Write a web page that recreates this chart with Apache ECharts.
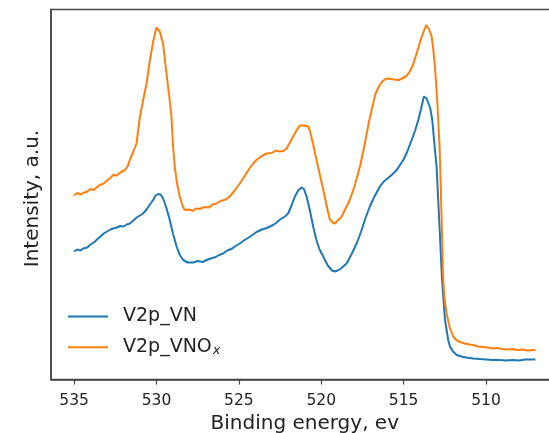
<!DOCTYPE html>
<html><head><meta charset="utf-8">
<script src="https://cdn.jsdelivr.net/npm/echarts@6/dist/echarts.min.js"></script>
<style>html,body{margin:0;padding:0;background:#fff}#c{width:549px;height:433px}</style>
</head><body><div id="c"></div><script>
const xTicks=[535,530,525,520,515,510];
const seriesNames=['V2p_VN','V2p_VNOx'];
const energyVN=[535.0,534.8,534.6,534.45,534.2,534.0,533.8,533.64,533.4,533.2,533.0,532.8,532.63,532.4,532.2,532.0,531.8,531.62,531.4,531.2,531.0,530.81,530.6,530.4,530.2,530.05,529.9,529.75,529.6,529.4,529.19,529.0,528.78,528.6,528.38,528.1,527.77,527.5,527.2,526.96,526.7,526.4,526.2,525.95,525.7,525.4,525.2,524.94,524.7,524.4,524.13,523.93,523.6,523.3,522.92,522.7,522.5,522.2,522.01,521.8,521.6,521.4,521.2,521.05,520.89,520.7,520.49,520.3,520.1,519.88,519.6,519.35,519.17,519.0,518.8,518.6,518.46,518.2,517.85,517.6,517.3,517.05,516.8,516.44,516.2,515.9,515.63,515.4,515.2,515.02,514.8,514.51,514.3,514.11,513.95,513.77,513.6,513.51,513.38,513.26,513.1,513.0,512.8,512.67,512.49,512.3,512.19,512.0,511.78,511.5,511.2,510.77,510.4,510.0,509.6,509.15,508.8,508.4,508.0,507.6,507.0];
const intensityVN=[128,130,129,131,132,135,137,139.5,143,146,148,150,151,152,153.5,153,155,156,159,162,164,166,170,175,179.5,184,185.5,185,181,172,159.5,146,133,125,119.5,117,117,118.5,117.5,119.5,121,122.5,124.5,126,129,131,133.5,136,139,142,145,147.5,150,151.5,154.5,157,160,163,166,174,183,189,192,190.5,183,170,153,140,130,123,114,109,108,109,111,114,116,124,136,147,162,173,182,193,198,202,206,210,215,219.5,227,239.5,249,259.5,270,283,281,279.5,271,259.5,230,213,146,100,60,40,33,28,24.5,23,22,21,20.5,20,19.5,19.5,19,19.5,19,20,20];
const energyVNOx=[535.0,534.8,534.6,534.45,534.2,534.0,533.8,533.6,533.44,533.2,533.0,532.8,532.63,532.4,532.2,531.92,531.75,531.62,531.4,531.21,531.01,530.8,530.6,530.4,530.2,530.0,529.8,529.6,529.39,529.2,529.09,528.99,528.89,528.75,528.59,528.4,528.28,528.18,528.0,527.8,527.6,527.37,527.1,526.8,526.6,526.35,526.1,525.8,525.55,525.3,524.94,524.7,524.4,524.13,523.9,523.6,523.32,523.0,522.75,522.51,522.3,522.1,522.01,521.8,521.5,521.3,521.19,521.05,520.93,520.8,520.69,520.5,520.28,520.1,519.88,519.7,519.48,519.3,519.17,519.0,518.8,518.67,518.4,518.26,518.0,517.65,517.45,517.25,517.1,516.85,516.7,516.5,516.3,516.1,515.89,515.6,515.29,515.1,514.88,514.7,514.58,514.4,514.27,514.1,513.97,513.8,513.63,513.45,513.3,513.2,513.1,512.96,512.81,512.7,512.6,512.5,512.39,512.2,511.99,511.8,511.58,511.3,511.0,510.77,510.5,510.2,509.9,509.6,509.3,509.0,508.7,508.4,508.1,507.8,507.5,507.0];
const intensityVNOx=[184,186.5,185,186.5,188,190.5,189.5,192.5,194.5,196,199,201.5,204.5,204,207,209.5,213,219.5,228,236,262,280,296,319,338,352,348,336,306,280,263,233,213,196,183,173,169.5,167.5,170,168.5,171,170.5,172.5,172,175,176,178.5,180,183,188,196,202,210,216,220,223.5,226,226.5,229,228,228.5,231,233,240,249,254,255.5,254,256,253,249,236,219,206,190,176,160,157,156,159,162,166,175,180,192,213,228,245,258,276,286,293,298,300.5,301,300,299.5,301,303,306,309.5,316,323,332,339.5,347,354.5,350,343,330,313,280,230,165,100,78,66,52,43,39.5,37.5,36,35,34.5,33,32.5,32,31,31.5,30.5,30,30.5,29.5,30,29,29.5];
const zip=(a,b)=>a.map((v,i)=>[v,b[i]]);
const FONT='DejaVu Sans';
const chart=echarts.init(document.getElementById('c'),null,{renderer:'canvas'});
chart.setOption({
  animation:false,
  backgroundColor:'#fff',
  textStyle:{fontFamily:FONT},
  grid:{left:51,top:9.5,width:507.5,height:370,containLabel:false,outerBoundsMode:'none',show:true,borderColor:'#444',borderWidth:1.5,backgroundColor:'transparent'},
  xAxis:{type:'value',inverse:true,min:505.6,max:536.4,
    name:'Binding energy, ev',nameLocation:'middle',nameGap:32,
    nameTextStyle:{fontSize:20,color:'#222',fontFamily:FONT},
    axisLine:{show:true,lineStyle:{color:'#444',width:1.5}},
    axisTick:{show:true,length:5,customValues:xTicks,lineStyle:{color:'#444',width:1.2}},
    axisLabel:{customValues:xTicks,fontSize:15.5,color:'#222',margin:13,fontFamily:FONT},
    splitLine:{show:false}},
  yAxis:{type:'value',min:0,max:370,
    name:'Intensity, a.u.',nameLocation:'middle',nameGap:8,
    nameTextStyle:{fontSize:20,color:'#222',fontFamily:FONT,padding:[0,8,0,0]},
    axisLine:{show:true,lineStyle:{color:'#444',width:1.5}},
    axisTick:{show:false},axisLabel:{show:false},splitLine:{show:false}},
  legend:{orient:'vertical',left:67,top:307,padding:0,itemWidth:40,itemHeight:20,itemGap:11.7,
    data:seriesNames,
    itemStyle:{opacity:0},
    formatter:n=>n==='V2p_VNOx'?'V2p_VNO{sub|x}':n,
    textStyle:{fontSize:19,color:'#222',fontFamily:FONT,padding:[0,0,0,10],
      rich:{sub:{fontSize:13,fontStyle:'italic',color:'#222',fontFamily:FONT,verticalAlign:'bottom',padding:[6,0,0,1]}}}},
  series:[
    {name:seriesNames[0],type:'line',symbol:'none',showSymbol:false,data:zip(energyVN,intensityVN),
      itemStyle:{color:'#1f77b4'},lineStyle:{color:'#1f77b4',width:2}},
    {name:seriesNames[1],type:'line',symbol:'none',showSymbol:false,data:zip(energyVNOx,intensityVNOx),
      itemStyle:{color:'#ff7f0e'},lineStyle:{color:'#ff7f0e',width:2}}
  ]
});
</script></body></html>
